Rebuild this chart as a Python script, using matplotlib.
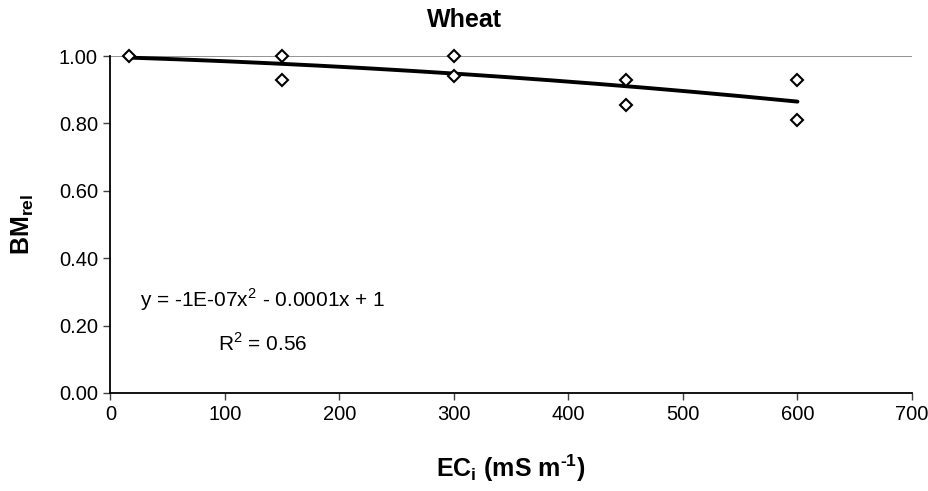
import numpy as np
import matplotlib
matplotlib.use('Agg')
import matplotlib.pyplot as plt

# --- Dados ---
ec_i = [16, 150, 150, 300, 300, 450, 450, 600, 600]
bm_rel = [1.00, 1.00, 0.93, 1.00, 0.94, 0.93, 0.855, 0.93, 0.81]
x_ticks = [0, 100, 200, 300, 400, 500, 600, 700]
y_ticks = [0.0, 0.2, 0.4, 0.6, 0.8, 1.0]
eq_text = 'y = -1E-07x$^2$ - 0.0001x + 1'
r2_text = 'R$^2$ = 0.56'

plt.rcParams['font.family'] = ['Liberation Sans', 'DejaVu Sans']
plt.rcParams['mathtext.fontset'] = 'custom'
plt.rcParams['mathtext.rm'] = 'Liberation Sans'
plt.rcParams['mathtext.bf'] = 'Liberation Sans:bold'

fig = plt.figure(figsize=(9.29, 4.91), dpi=100)
ax = fig.add_axes([110.5 / 929, 1 - 393 / 491, (912 - 110.5) / 929, (393 - 56) / 491])

# linha de tendência polinomial (ordem 2), como no Excel
coef = np.polyfit(ec_i, bm_rel, 2)
xs = np.linspace(min(ec_i), max(ec_i), 200)
ax.plot(xs, np.polyval(coef, xs), color='black', lw=2.8, zorder=2,
        solid_capstyle='round')

ax.axhline(1.0, color='#808080', lw=1.2, zorder=1)
ax.plot(ec_i, bm_rel, linestyle='none', marker='D', ms=6.5, mfc='white',
        mec='black', mew=1.5, zorder=3, clip_on=False)

ax.set_xlim(0, 700)
ax.set_ylim(0, 1.0)
ax.set_xticks(x_ticks)
ax.set_yticks(y_ticks)
ax.set_yticklabels([f'{v:.2f}' for v in y_ticks])
ax.tick_params(direction='out', length=5, width=1, labelsize=14.5, pad=4,
               color='#404040')
for s in ['top', 'right']:
    ax.spines[s].set_visible(False)
for s in ['left', 'bottom']:
    ax.spines[s].set_linewidth(1.3)

ax.text(133, 0.276, eq_text, ha='center', va='center', fontsize=15)
ax.text(133, 0.148, r2_text, ha='center', va='center', fontsize=15)

fig.text(0.5, 1 - 20 / 491, 'Wheat', ha='center', va='center',
         fontsize=18, fontweight='bold')
fig.text(511 / 929, 1 - 468 / 491,
         '$\\mathbf{EC_i}$ (mS m$\\mathbf{^{\u20101}}$)',
         ha='center', va='center', fontsize=18, fontweight='bold')
fig.text(23 / 929, 1 - 224 / 491, r'$\mathbf{BM_{rel}}$', ha='center',
         va='center', rotation=90, fontsize=18, fontweight='bold')

fig.savefig('out.png', dpi=100)
